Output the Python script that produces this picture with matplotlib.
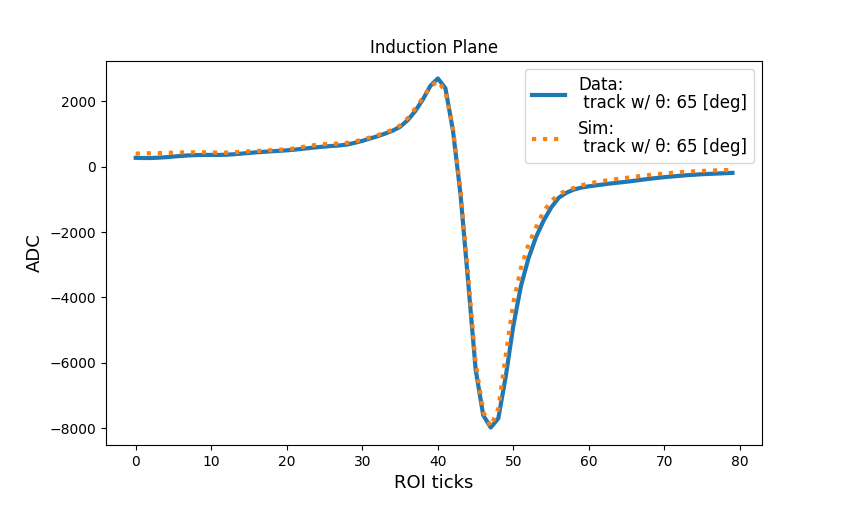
import numpy as np
import matplotlib.pyplot as plt

ticks = np.arange(80)

data_adc = [270, 265, 265, 275, 290, 310, 330, 345, 355, 360,
            360, 360, 365, 380, 400, 420, 440, 455, 470, 485,
            500, 520, 545, 570, 595, 615, 635, 650, 680, 730,
            790, 860, 930, 1010, 1100, 1220, 1420, 1700, 2050, 2470,
            2700, 2400, 1100, -850, -3500, -6200, -7600, -7980, -7700, -6400,
            -4850, -3650, -2800, -2150, -1650, -1250, -950, -800, -700, -640,
            -600, -570, -540, -510, -485, -460, -430, -400, -370, -345,
            -320, -300, -280, -260, -245, -230, -220, -210, -200, -190]

sim_adc = [400, 410, 410, 415, 420, 430, 435, 440, 440, 440,
           435, 430, 430, 440, 455, 470, 480, 490, 505, 520,
           530, 560, 600, 640, 670, 690, 700, 710, 730, 770,
           830, 890, 960, 1040, 1130, 1260, 1480, 1780, 2100, 2450,
           2620, 2300, 1150, -700, -3300, -6000, -7500, -7950, -7400, -5750,
           -4150, -3100, -2380, -1850, -1370, -1050, -850, -730, -650, -570,
           -515, -470, -430, -400, -370, -340, -310, -280, -255, -230,
           -210, -190, -170, -155, -140, -130, -120, -110, -105, -100]

theta = 65

fig, ax = plt.subplots(figsize=(8.47, 5.08), dpi=100)
fig.subplots_adjust(bottom=0.124)
ax.plot(ticks, data_adc, lw=3, label="Data:\n track w/ θ: %d [deg]" % theta)
ax.plot(ticks, sim_adc, lw=3, ls=':', label="Sim:\n track w/ θ: %d [deg]" % theta)
ax.set_title("Induction Plane")
ax.set_xlabel("ROI ticks", fontsize=13)
ax.set_ylabel("ADC", fontsize=13)
leg = ax.legend(fontsize=12)
for t in leg.get_texts():
    t.set_linespacing(1.0)
fig.savefig('out.png')
